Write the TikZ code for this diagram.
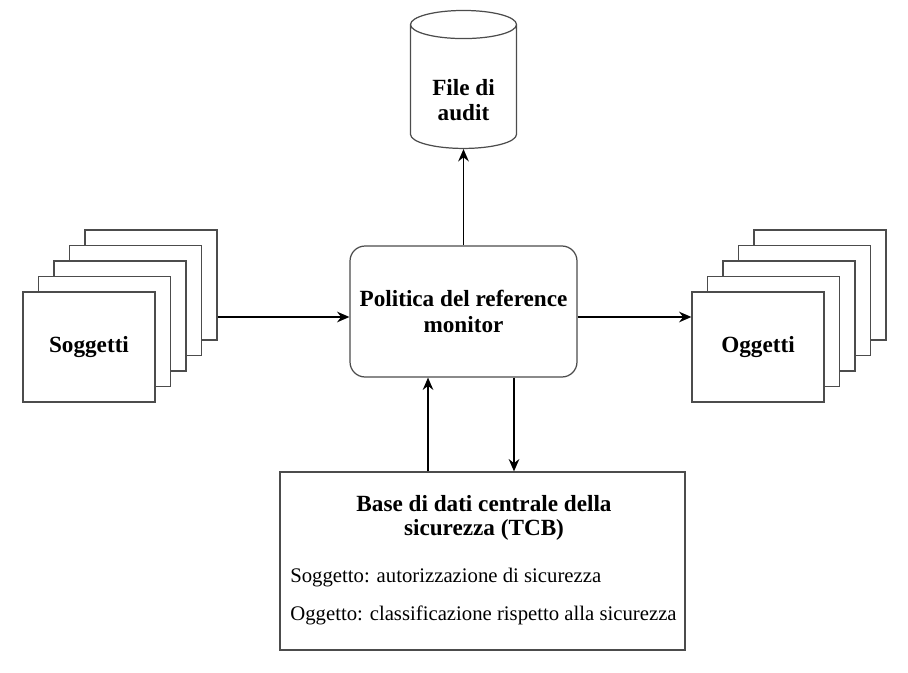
\documentclass[tikz,border=0pt]{standalone}
\usepackage{fontspec}
\setmainfont{Liberation Serif}
\usetikzlibrary{shapes.geometric,arrows.meta}

\tikzset{
  page/.style={draw=black!70, fill=white, line width=0.7pt, minimum width=2.64cm, minimum height=2.2cm, font=\fontsize{13.2}{14.5}\selectfont\bfseries},
  arr/.style={-{Stealth[length=7pt,width=6pt]}, line width=1pt},
}

\begin{document}
\begin{tikzpicture}[x=0.02cm,y=-0.02cm]
\useasboundingbox (0,0) rectangle (908,672);
% soggetti
\foreach \i in {4,3,2,1}
  \node[page] (sogg\i) at ({89+15.5*\i},{347-15.5*\i}) {};
\node[page] (sogg) at (89,347) {Soggetti};
% oggetti
\foreach \i in {4,3,2,1}
  \node[page] (ogg\i) at ({758+15.5*\i},{347-15.5*\i}) {};
\node[page] (ogg) at (758,347) {Oggetti};
% reference monitor
\node[draw=black!70, line width=0.7pt, rounded corners=0.3cm, minimum width=4.54cm, minimum height=2.62cm, align=center, font=\fontsize{13.2}{14.8}\selectfont\bfseries] (ctrl) at (463.5,311.5) {Politica del reference\\monitor};
% audit
\node[draw=black!70, line width=0.7pt, cylinder, shape border rotate=90, aspect=2.4, minimum width=2.12cm, minimum height=2.76cm] (audit) at (463.5,90) {};
\node[align=center, font=\fontsize{13.2}{14.5}\selectfont\bfseries] (audittxt) at (463.5,100) {File di\\audit};
% tcb
\node[draw=black!70, line width=0.7pt, minimum width=8.1cm, minimum height=3.56cm] (tcb) at (482.5,561) {};
\node[align=center, font=\fontsize{13.2}{13.2}\selectfont\bfseries] (tcbhead) at (484,518) {Base di dati centrale della\\sicurezza (TCB)};
\node[anchor=base west, inner sep=0pt, font=\fontsize{11.8}{14}\selectfont] (tcbsogg) at (290,582) {Soggetto: autorizzazione di sicurezza};
\node[anchor=base west, inner sep=0pt, font=\fontsize{11.8}{14}\selectfont] (tcbogg) at (290,620) {Oggetto: classificazione rispetto alla sicurezza};
% frecce
\coordinate (ctrlin) at ([yshift=-0.11cm]ctrl.west);
\coordinate (upfoot) at ([xshift=-1.09cm]tcb.north);
\coordinate (downfoot) at ([xshift=0.63cm]tcb.north);
\draw[arr] (ctrl.north) -- (audit.south);
\draw[arr] (ctrlin -| sogg4.east) -- (ctrlin);
\draw[arr] (ctrl.east |- ctrlin) -- (ctrlin -| ogg.west);
\draw[arr] (upfoot) -- (upfoot |- ctrl.south);
\draw[arr] (downfoot |- ctrl.south) -- (downfoot);
\end{tikzpicture}
\end{document}
